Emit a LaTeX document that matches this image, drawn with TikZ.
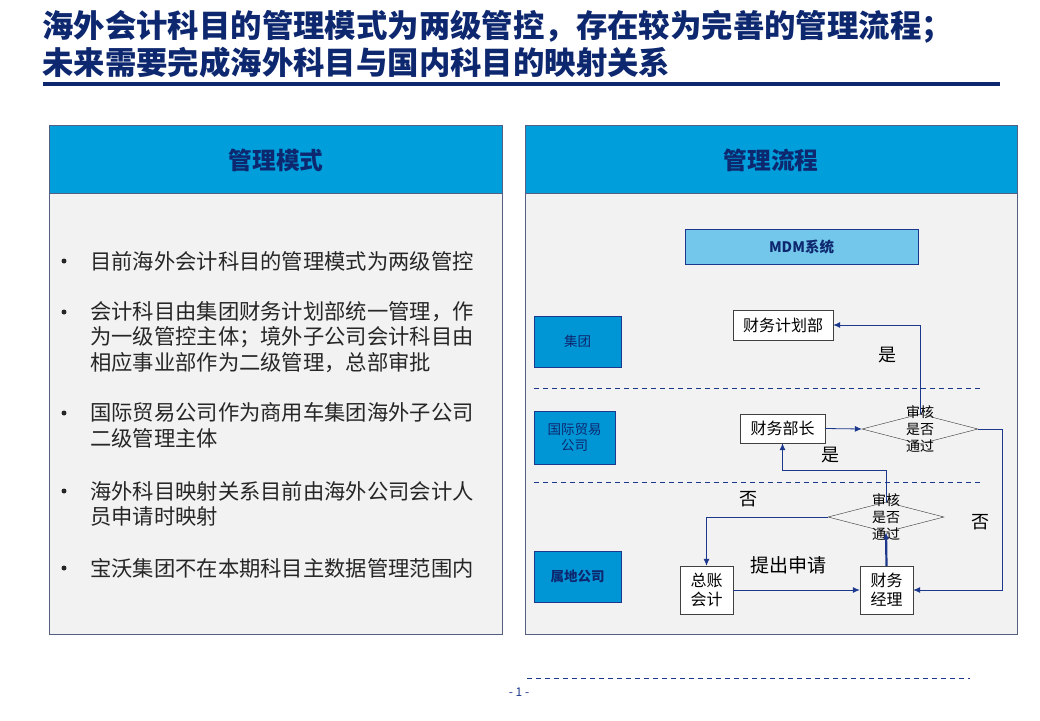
\documentclass[tikz,border=0pt]{standalone}
\usepackage{fontspec}
\setmainfont{Noto Sans CJK SC}
\usetikzlibrary{arrows.meta,shapes.geometric,positioning}
\definecolor{navy}{RGB}{14,40,112}
\definecolor{headblue}{RGB}{0,158,219}
\definecolor{laneblue}{RGB}{0,150,214}
\definecolor{mdmblue}{RGB}{114,199,235}
\definecolor{panelgray}{RGB}{242,242,242}
\definecolor{framegray}{RGB}{84,96,130}
\definecolor{flowblue}{RGB}{28,56,140}

\begin{document}
\begin{tikzpicture}[x=1pt,y=-1pt,
  title/.style={anchor=west,inner sep=0pt,font=\fontsize{31.4}{36}\selectfont\bfseries,text=navy},
  headtxt/.style={font=\fontsize{23.7}{28}\selectfont\bfseries,text=navy},
  dot/.style={circle,fill=black!85,inner sep=0pt,minimum size=5pt},
  item/.style={anchor=west,inner sep=0pt,align=left,font=\fontsize{21.3}{25.5}\selectfont,text=black!85},
  lane/.style={draw=flowblue,fill=laneblue,minimum width=87pt,minimum height=51pt,
               font=\fontsize{13.5}{16}\selectfont,text=navy,align=center},
  flow/.style={draw=black!75,fill=white,inner sep=0pt,
               font=\fontsize{16}{19}\selectfont,align=center},
  chk/.style={diamond,draw=black!80,minimum width=116pt,minimum height=30pt,inner sep=0pt},
  chktxt/.style={inner sep=0pt,align=center,font=\fontsize{14}{17}\selectfont},
  note/.style={inner sep=0pt,font=\fontsize{18}{20}\selectfont},
  arr/.style={-{Latex[length=7pt,width=6pt]},line width=0.8pt,color=flowblue},
  sep/.style={dash pattern=on 5pt off 4pt,line width=0.8pt,color=flowblue}]
\useasboundingbox[fill=white] (0,0) rectangle (1040,720);
% Title
\node[title] (t1) at (42,27) {海外会计科目的管理模式为两级管控，存在较为完善的管理流程；};
\node[title] (t2) at (42,63) {未来需要完成海外科目与国内科目的映射关系};
\draw[navy,line width=4pt] (43,84) -- (1000,84);
% Left panel
\draw[draw=framegray,fill=panelgray,line width=0.8pt] (49,125) rectangle (502,634);
\draw[draw=framegray,fill=headblue,line width=0.8pt] (49,125) rectangle (502,193);
\node[headtxt] (lh) at (276,160) {管理模式};
\node[dot] (b1) at (64,261) {};
\node[item] (i1) at (90,261) {目前海外会计科目的管理模式为两级管控};
\node[dot] (b2) at (64,312) {};
\node[item] (i2) at (90,337) {会计科目由集团财务计划部统一管理，作\\为一级管控主体；境外子公司会计科目由\\相应事业部作为二级管理，总部审批};
\node[dot] (b3) at (64,413) {};
\node[item] (i3) at (90,425.5) {国际贸易公司作为商用车集团海外子公司\\二级管理主体};
\node[dot] (b4) at (64,491) {};
\node[item] (i4) at (90,504) {海外科目映射关系目前由海外公司会计人\\员申请时映射};
\node[dot] (b5) at (64,568) {};
\node[item] (i5) at (90,568) {宝沃集团不在本期科目主数据管理范围内};
% Right panel
\draw[draw=framegray,fill=panelgray,line width=0.8pt] (525,125) rectangle (1017,634);
\draw[draw=framegray,fill=headblue,line width=0.8pt] (525,125) rectangle (1017,193);
\node[headtxt] (rh) at (771,160) {管理流程};
\node[draw=flowblue,fill=mdmblue,minimum width=233pt,minimum height=35pt,
      font=\fontsize{14.5}{17}\selectfont\bfseries,text=navy] (mdm) at (801.5,246.5) {MDM系统};
% Lanes
\node[lane] (jt) at (577.5,341.5) {集团};
\node[lane,minimum width=81pt,minimum height=53pt] (gm) at (574.5,437.5) {国际贸易\\公司};
\node[lane,font=\fontsize{13.5}{16}\selectfont\bfseries] (sd) at (577.5,576.5) {属地公司};
\draw[sep] (534,388) -- (980,388);
\draw[sep] (534,482) -- (980,482);
% Flow boxes
\node[flow,minimum width=100pt,minimum height=30pt] (jhb) at (783,325) {财务计划部};
\node[flow,minimum width=85pt,minimum height=29pt] (bz) at (782.5,428.5) {财务部长};
\node[flow,minimum width=53pt,minimum height=48pt] (zz) at (706.5,590) {总账\\会计};
\node[flow,minimum width=53pt,minimum height=48pt] (jl) at (886.5,590) {财务\\经理};
\node[chk] (sh1) at (920,429) {};
\node[chk] (sh2) at (886,517) {};
\node[chktxt] (sh1t) at (sh1.center) {审核\\是否\\通过};
\node[chktxt] (sh2t) at (sh2.center) {审核\\是否\\通过};
% Connectors
\draw[arr] (zz.east) -- (jl.west);
\draw[arr,line width=2.2pt] (jl.north) -- (sh2.south);
\draw[arr] (sh2.west) -| (zz.north);
\draw[arr] (sh2.north) -- ++(0,-31) -| (bz.south);
\draw[arr] (bz.east) -- (sh1.west);
\draw[arr] (sh1.north) |- (jhb.east);
\draw[arr] (sh1.east) -- ++(24,0) |- (jl.east);
% Labels
\node[note] (y1) at (887,355) {是};
\node[note] (y2) at (830,455) {是};
\node[note] (n1) at (748,499) {否};
\node[note] (n2) at (980,522) {否};
\node[note,font=\fontsize{19}{22}\selectfont] (req) at (788,565) {提出申请};
% Footer
\draw[sep] (527,678) -- (970,678);
\node[inner sep=0pt,font=\fontsize{12}{14}\selectfont,text=flowblue] (pg) at (519,692) {- 1 -};
\end{tikzpicture}
\end{document}
